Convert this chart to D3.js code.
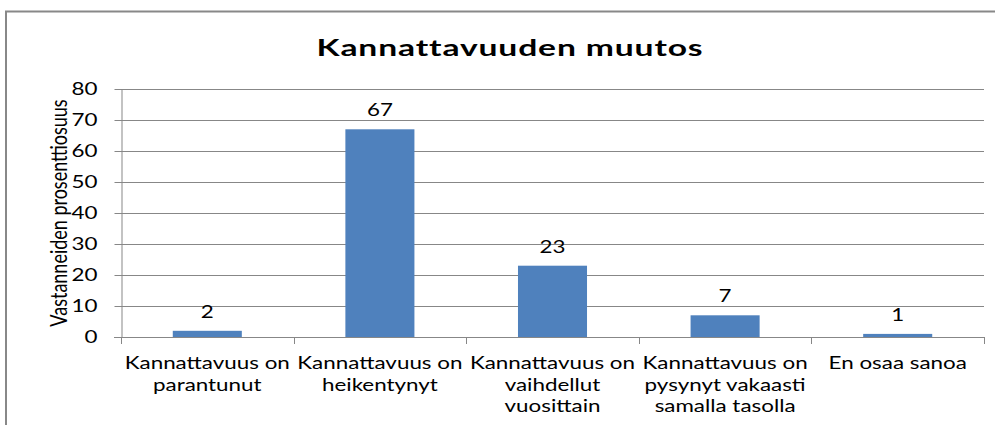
<!DOCTYPE html>
<html><head><meta charset="utf-8">
<script src="https://cdn.jsdelivr.net/npm/d3@7"></script>
<style>
html,body{margin:0;padding:0;background:#fff;}
svg{display:block;}
text{font-family:Lato,"Open Sans","DejaVu Sans",sans-serif;fill:#000;}
</style></head>
<body>
<svg id="chart" width="995" height="425"></svg>
<script>
const title = "Kannattavuuden muutos";
const yAxisTitle = "Vastanneiden prosenttiosuus";
const categories = [
  ["Kannattavuus on", "parantunut"],
  ["Kannattavuus on", "heikentynyt"],
  ["Kannattavuus on", "vaihdellut", "vuosittain"],
  ["Kannattavuus on", "pysynyt vakaasti", "samalla tasolla"],
  ["En osaa sanoa"]
];
const values = [2, 67, 23, 7, 1];
const yTicks = [0, 10, 20, 30, 40, 50, 60, 70, 80];

const svg = d3.select("#chart");
const W = 995, H = 425;
const m = {left: 121, right: 11, top: 89, bottom: 88};
const x0 = m.left, x1 = W - m.right, yTop = m.top, yBot = H - m.bottom;
const SX = 1.28; // horizontal stretch of the original rendering

// outer chart border
svg.append("path")
  .attr("d", `M6,${H} L6,11.5 L${W},11.5`)
  .attr("fill", "none").attr("stroke", "#888").attr("stroke-width", 2);

const keys = categories.map((c, i) => i);
const x = d3.scaleBand().domain(keys).range([x0, x1]).paddingInner(0.6).paddingOuter(0.3);
const xb = d3.scaleBand().domain(keys).range([x0, x1]).padding(0);
const y = d3.scaleLinear().domain([0, 80]).range([yBot, yTop]);

// gridlines
svg.append("g").selectAll("line").data(yTicks.filter(t => t > 0)).join("line")
  .attr("x1", x0).attr("x2", x1)
  .attr("y1", d => Math.round(y(d)) + 0.5).attr("y2", d => Math.round(y(d)) + 0.5)
  .attr("stroke", "#878787").attr("stroke-width", 1);

// bars
svg.append("g").selectAll("rect").data(values).join("rect")
  .attr("x", (d, i) => x(i)).attr("width", x.bandwidth())
  .attr("y", d => y(d)).attr("height", d => y(0) - y(d))
  .attr("fill", "#4f81bd");

// y axis
const yAxis = d3.axisLeft(y).tickValues(yTicks).tickSize(7).tickPadding(9).tickSizeOuter(0);
const gy = svg.append("g").attr("transform", `translate(${x0 + 0.5},0)`).call(yAxis);
gy.select(".domain").attr("stroke", "#878787");
gy.selectAll(".tick line").attr("stroke", "#878787");
gy.selectAll(".tick text")
  .attr("font-size", 17.5).attr("font-family", 'Lato,sans-serif').attr("fill", "#000")
  .attr("x", 0).attr("transform", `translate(-24,0) scale(${SX},1)`);

// x axis with ticks at category boundaries
svg.append("line").attr("x1", x0 - 7).attr("x2", x1).attr("y1", Math.round(yBot) + 0.5).attr("y2", Math.round(yBot) + 0.5)
  .attr("stroke", "#878787");
const bounds = keys.map(k => xb(k)).concat([x1]);
svg.append("g").selectAll("line").data(bounds).join("line")
  .attr("x1", d => Math.round(d) + 0.5).attr("x2", d => Math.round(d) + 0.5)
  .attr("y1", yBot).attr("y2", yBot + 7).attr("stroke", "#878787");

// category labels, one text element per line
const lines = [];
categories.forEach((c, i) => c.forEach((t, j) => lines.push({i, j, t})));
svg.append("g").selectAll("text").data(lines).join("text")
  .attr("text-anchor", "middle").attr("font-size", 17.5)
  .attr("transform", d => `translate(${xb(d.i) + xb.bandwidth() / 2},${yBot + 32 + d.j * 21.5}) scale(${SX},1)`)
  .text(d => d.t);

// data labels
svg.append("g").selectAll("text").data(values).join("text")
  .attr("text-anchor", "middle").attr("font-size", 17.5)
  .attr("transform", (d, i) => `translate(${x(i) + x.bandwidth() / 2},${y(d) - 13}) scale(${SX},1)`)
  .text(d => d);

// title
const tt = svg.append("text").attr("text-anchor", "middle")
  .attr("font-size", 23.5).attr("font-weight", "bold").attr("letter-spacing", 0.6)
  .text(title);
const tLen = tt.node().getComputedTextLength();
const tScale = tLen > 0 ? 387 / tLen : 1.5;
tt.attr("transform", `translate(510,56) scale(${tScale},1)`);

// y axis title (stretch acts across the rotated text)
svg.append("text").attr("transform", `translate(67,${(yTop + yBot) / 2}) rotate(-90) scale(1,${SX})`)
  .attr("text-anchor", "middle").attr("font-size", 18)
  .text(yAxisTitle);
</script>
</body></html>
